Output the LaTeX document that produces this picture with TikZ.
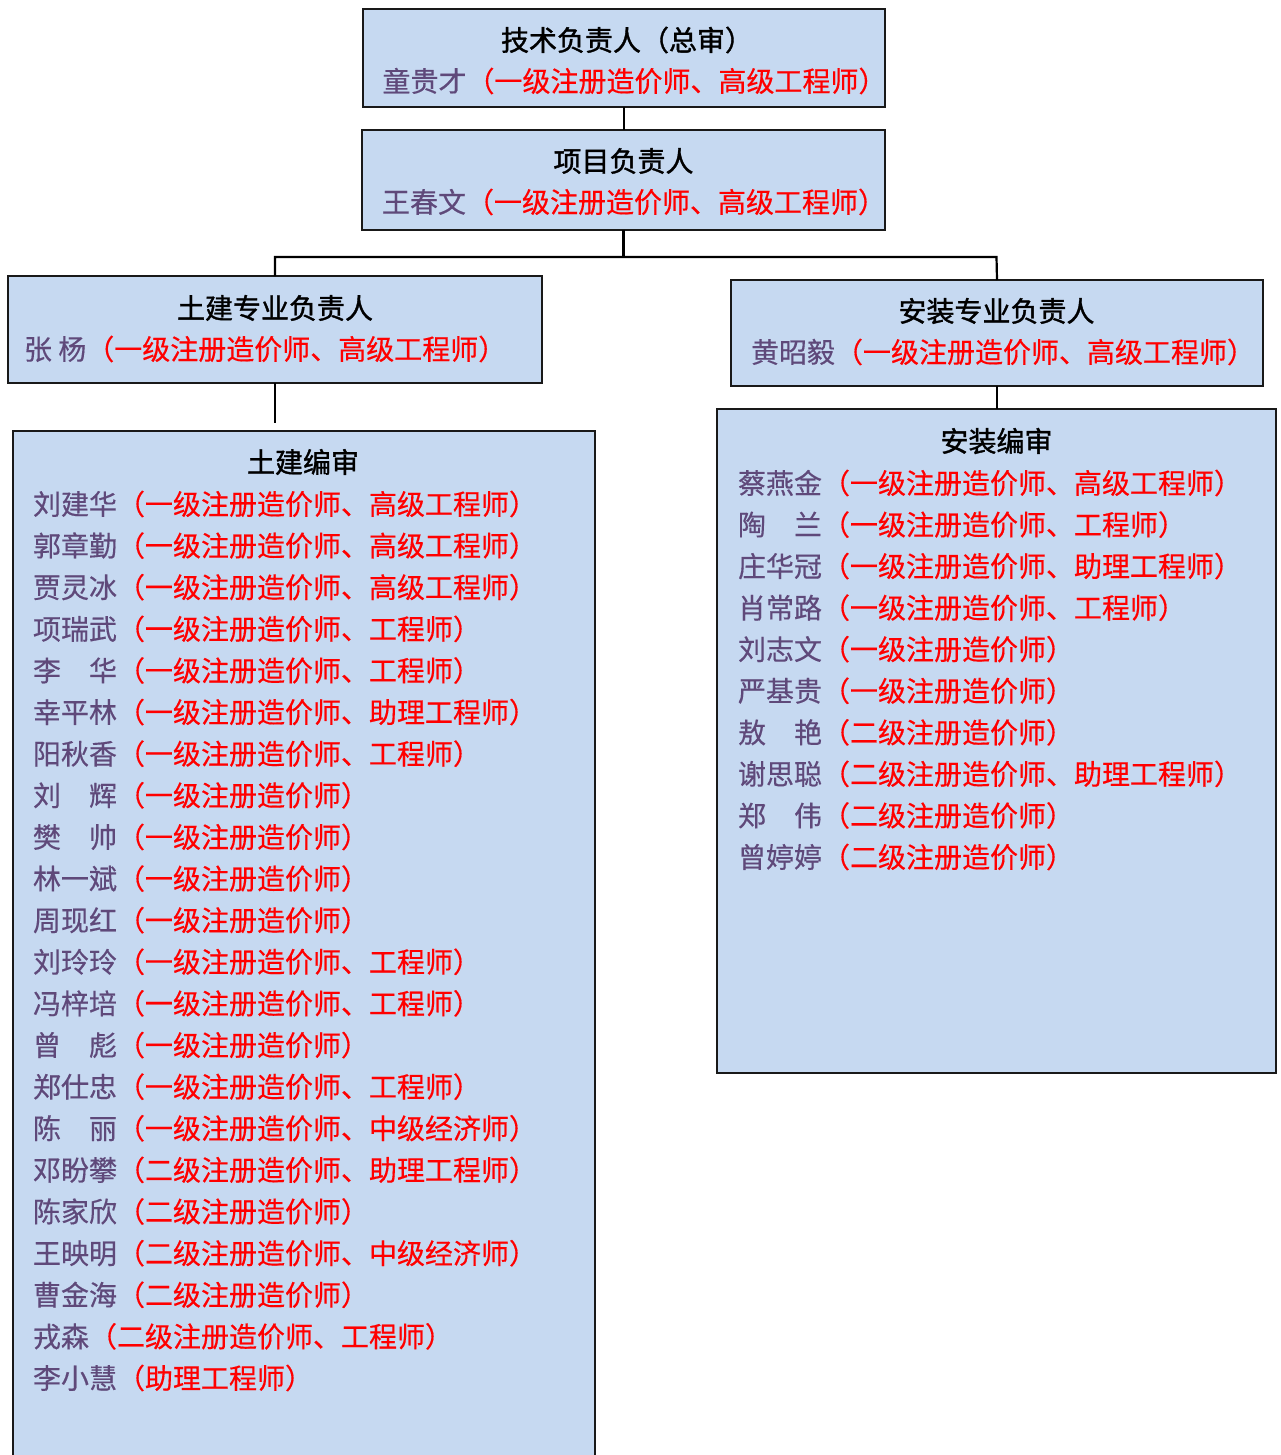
\documentclass[tikz,border=0pt]{standalone}
\usepackage{fontspec}
\setmainfont{Noto Sans CJK SC}[FakeBold=0.4]
\newfontfamily\titlefont{Noto Sans CJK SC}[FakeBold=1.3]
\definecolor{boxblue}{RGB}{198,217,241}
\definecolor{namec}{RGB}{95,73,122}
\definecolor{qualc}{RGB}{255,0,0}
\definecolor{edgec}{RGB}{25,25,25}
\newcommand\pline[2]{{\color{namec}#1}{\color{qualc}（#2）}}
\newcommand\ptwo[2]{#1\hspace{1em}#2}
\begin{document}
\begin{tikzpicture}[x=1pt,y=-1pt,
  box/.style={draw=edgec, line width=1.8pt, fill=boxblue, inner sep=0pt, outer sep=0pt, anchor=north west},
  txt/.style={inner sep=0pt, outer sep=0pt, font=\fontsize{28}{30}\selectfont},
  ttl/.style={txt, text=black, font=\fontsize{28}{30}\selectfont\titlefont},
  row/.style={txt, anchor=west},
  link/.style={draw=black, line width=1.3pt},
  bus/.style={draw=black, line width=2.2pt}]
\useasboundingbox (0,0) rectangle (1280,1455);
\clip (0,0) rectangle (1280,1455);
\fill[white] (0,0) rectangle (1280,1455);

% boxes
\node[box, minimum width=522pt, minimum height=98pt] (tech) at (363,9) {};
\node[box, minimum width=523pt, minimum height=100pt] (pm) at (362,130) {};
\node[box, minimum width=534pt, minimum height=107pt] (civ) at (8,276) {};
\node[box, minimum width=532pt, minimum height=106pt] (ins) at (731,280) {};
\node[box, minimum width=582pt, minimum height=1080pt] (civlist) at (13,431) {};
\node[box, minimum width=559pt, minimum height=664pt] (inslist) at (717,409) {};

% connectors
\coordinate (jl) at (275,257);
\coordinate (jr) at (996.5,257);
\coordinate (civend) at (275,423);
\draw[link] (tech.south) -- (tech.south |- pm.north);
\draw[bus] (pm.south) -- (pm.south |- jl);
\draw[bus] (civ.north) -- (jl) -- (jr) -- (ins.north);
\draw[link] (civ.south) -- (civend);
\draw[link] (ins.south) -- (ins.south |- inslist.north);

% top boxes text
\node[ttl] (t1) at (627,40) {技术负责人（总审）};
\node[row] (t2) at (382.5,81) {\pline{童贵才}{一级注册造价师、高级工程师}};
\node[ttl] (p1) at (623.5,161) {项目负责人};
\node[row] (p2) at (382,202) {\pline{王春文}{一级注册造价师、高级工程师}};
\node[ttl] (c1) at (275,308) {土建专业负责人};
\node[row] (c2) at (24,349) {\pline{张 杨}{一级注册造价师、高级工程师}};
\node[ttl] (i1) at (996.5,311) {安装专业负责人};
\node[row] (i2) at (751,352) {\pline{黄昭毅}{一级注册造价师、高级工程师}};

% civil list
\node[ttl] (cl0) at (303,462) {土建编审};
\node[row] (cl1) at (33,504) {\pline{刘建华}{一级注册造价师、高级工程师}};
\node[row] (cl2) at (33,545.6) {\pline{郭章勤}{一级注册造价师、高级工程师}};
\node[row] (cl3) at (33,587.2) {\pline{贾灵冰}{一级注册造价师、高级工程师}};
\node[row] (cl4) at (33,628.9) {\pline{项瑞武}{一级注册造价师、工程师}};
\node[row] (cl5) at (33,670.5) {\pline{\ptwo{李}{华}}{一级注册造价师、工程师}};
\node[row] (cl6) at (33,712.1) {\pline{幸平林}{一级注册造价师、助理工程师}};
\node[row] (cl7) at (33,753.7) {\pline{阳秋香}{一级注册造价师、工程师}};
\node[row] (cl8) at (33,795.3) {\pline{\ptwo{刘}{辉}}{一级注册造价师}};
\node[row] (cl9) at (33,837.0) {\pline{\ptwo{樊}{帅}}{一级注册造价师}};
\node[row] (cl10) at (33,878.6) {\pline{林一斌}{一级注册造价师}};
\node[row] (cl11) at (33,920.2) {\pline{周现红}{一级注册造价师}};
\node[row] (cl12) at (33,961.8) {\pline{刘玲玲}{一级注册造价师、工程师}};
\node[row] (cl13) at (33,1003.4) {\pline{冯梓培}{一级注册造价师、工程师}};
\node[row] (cl14) at (33,1045.1) {\pline{\ptwo{曾}{彪}}{一级注册造价师}};
\node[row] (cl15) at (33,1086.7) {\pline{郑仕忠}{一级注册造价师、工程师}};
\node[row] (cl16) at (33,1128.3) {\pline{\ptwo{陈}{丽}}{一级注册造价师、中级经济师}};
\node[row] (cl17) at (33,1169.9) {\pline{邓盼攀}{二级注册造价师、助理工程师}};
\node[row] (cl18) at (33,1211.5) {\pline{陈家欣}{二级注册造价师}};
\node[row] (cl19) at (33,1253.2) {\pline{王映明}{二级注册造价师、中级经济师}};
\node[row] (cl20) at (33,1294.8) {\pline{曹金海}{二级注册造价师}};
\node[row] (cl21) at (33,1336.4) {\pline{戎森}{二级注册造价师、工程师}};
\node[row] (cl22) at (33,1378) {\pline{李小慧}{助理工程师}};

% install list
\node[ttl] (il0) at (996.5,441) {安装编审};
\node[row] (il1) at (738,483) {\pline{蔡燕金}{一级注册造价师、高级工程师}};
\node[row] (il2) at (738,524.6) {\pline{\ptwo{陶}{兰}}{一级注册造价师、工程师}};
\node[row] (il3) at (738,566.1) {\pline{庄华冠}{一级注册造价师、助理工程师}};
\node[row] (il4) at (738,607.7) {\pline{肖常路}{一级注册造价师、工程师}};
\node[row] (il5) at (738,649.2) {\pline{刘志文}{一级注册造价师}};
\node[row] (il6) at (738,690.8) {\pline{严基贵}{一级注册造价师}};
\node[row] (il7) at (738,732.4) {\pline{\ptwo{敖}{艳}}{二级注册造价师}};
\node[row] (il8) at (738,773.9) {\pline{谢思聪}{二级注册造价师、助理工程师}};
\node[row] (il9) at (738,815.5) {\pline{\ptwo{郑}{伟}}{二级注册造价师}};
\node[row] (il10) at (738,857) {\pline{曾婷婷}{二级注册造价师}};
\end{tikzpicture}
\end{document}
